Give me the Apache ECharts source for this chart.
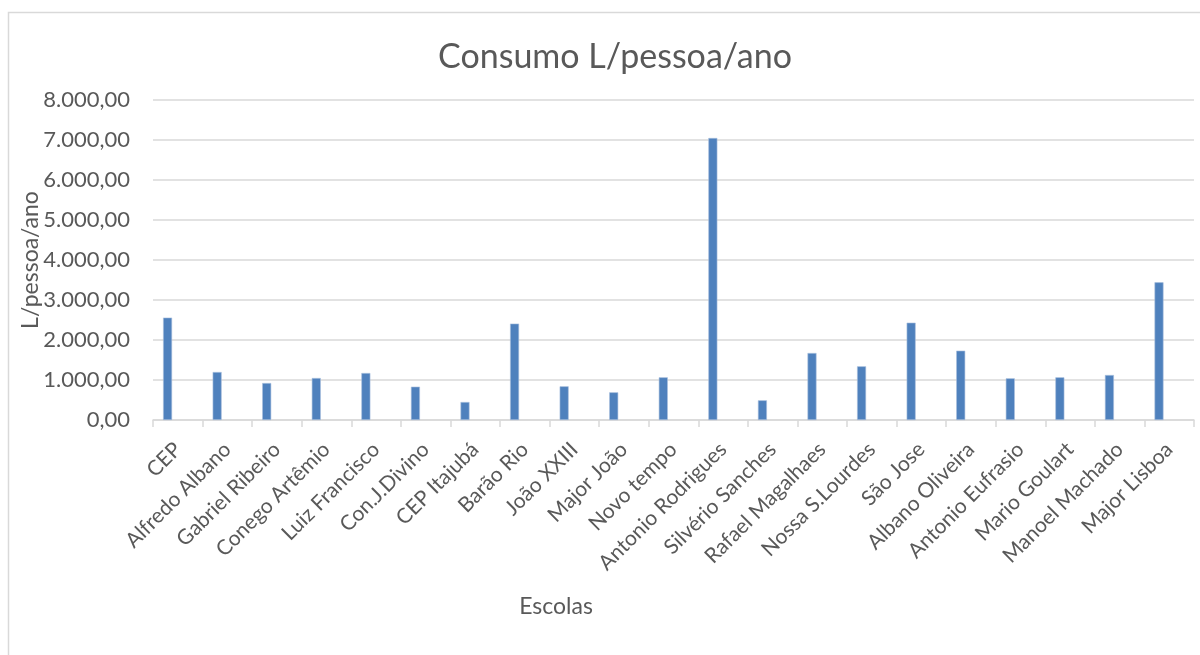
<!DOCTYPE html>
<html>
<head>
<meta charset="utf-8">
<script src="https://cdn.jsdelivr.net/npm/echarts@6/dist/echarts.min.js"></script>
<style>
  html, body { margin: 0; padding: 0; background: #fff; }
  #chart { width: 1200px; height: 655px; }
</style>
</head>
<body>
<div id="chart"></div>
<script>
// Schools (x axis categories)
const escolas = [
  'CEP', 'Alfredo Albano', 'Gabriel Ribeiro', 'Conego Artêmio', 'Luiz Francisco',
  'Con.J.Divino', 'CEP Itajubá', 'Barão Rio', 'João XXIII', 'Major João',
  'Novo tempo', 'Antonio Rodrigues', 'Silvério Sanches', 'Rafael Magalhaes',
  'Nossa S.Lourdes', 'São Jose', 'Albano Oliveira', 'Antonio Eufrasio',
  'Mario Goulart', 'Manoel Machado', 'Major Lisboa'
];

// Consumption in litres per person per year
const consumo = [
  2560, 1200, 925, 1050, 1175,
  833, 450, 2410, 842, 692,
  1067, 7050, 492, 1675,
  1342, 2433, 1733, 1042,
  1067, 1125, 3442
];

// Value axis range
const yMin = 0;
const yMax = 8000;
const yStep = 1000;

const FONT = 'Lato, "Open Sans", sans-serif';
const TEXT = '#595959';
const LINE = '#d9d9d9';

// pt-BR number format: thousands with '.', decimals with ','
function fmtBR(v) {
  const parts = v.toFixed(2).split('.');
  parts[0] = parts[0].replace(/\B(?=(\d{3})+(?!\d))/g, '.');
  return parts[0] + ',' + parts[1];
}

const chart = echarts.init(document.getElementById('chart'), null, { renderer: 'canvas' });

chart.setOption({
  animation: false,
  backgroundColor: '#ffffff',
  textStyle: { fontFamily: FONT },
  title: [
    {
      text: 'Consumo L/pessoa/ano',
      left: 610, top: 35, textAlign: 'center',
      textStyle: { fontFamily: FONT, fontSize: 34, fontWeight: 'normal', color: TEXT }
    },
    {
      text: 'Escolas',
      left: 551, top: 590, textAlign: 'center',
      textStyle: { fontFamily: FONT, fontSize: 23, fontWeight: 'normal', color: TEXT }
    }
  ],
  graphic: [
    {
      type: 'rect',
      shape: { x: 8.5, y: 12.5, width: 1400, height: 800 },
      style: { fill: null, stroke: LINE, lineWidth: 1.5 },
      silent: true
    }
  ],
  grid: { left: 153, right: 6, top: 100, bottom: 235, containLabel: false },
  xAxis: {
    type: 'category',
    data: escolas,
    axisLine: { lineStyle: { color: LINE, width: 1.5 } },
    axisTick: { show: true, length: 7, lineStyle: { color: LINE, width: 1.5 } },
    axisLabel: {
      interval: 0, rotate: 45, margin: 26,
      fontFamily: FONT, fontSize: 21, color: TEXT
    }
  },
  yAxis: {
    type: 'value',
    min: yMin, max: yMax, interval: yStep,
    name: 'L/pessoa/ano',
    nameLocation: 'middle',
    nameGap: 111,
    nameMoveOverlap: false,
    nameTextStyle: { fontFamily: FONT, fontSize: 23, color: TEXT },
    axisLine: { show: false },
    axisTick: { show: false },
    splitLine: { lineStyle: { color: LINE, width: 1.5 } },
    axisLabel: {
      margin: 23, fontFamily: FONT, fontSize: 22, color: TEXT,
      formatter: fmtBR
    }
  },
  series: [
    {
      name: 'Consumo',
      type: 'bar',
      data: consumo,
      barWidth: 9,
      barGap: '127%',
      itemStyle: { color: '#4f81bd', borderColor: '#a9c0de', borderWidth: 0.6 }
    },
    {
      // empty companion series: keeps each bar on the left side of its slot
      name: 'vazio',
      type: 'bar',
      data: [],
      barWidth: 9
    }
  ]
});
</script>
</body>
</html>
